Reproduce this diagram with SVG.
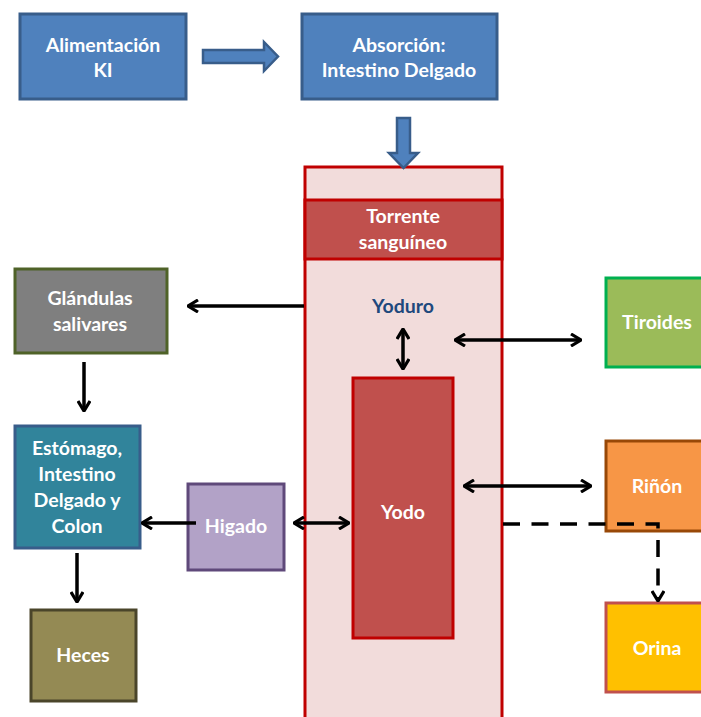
<svg xmlns="http://www.w3.org/2000/svg" width="701" height="717" viewBox="0 0 701 717">
<defs>
<style>
.t{font-family:Lato,"Open Sans","Liberation Sans",sans-serif;font-weight:bold;font-size:19.5px;fill:#fff;text-anchor:middle}
.c{stroke:#000;stroke-width:3.5;fill:none}
.blk{fill:#4F81BD;stroke:#385D8A;stroke-width:2.5}
</style>
<marker id="ah" viewBox="0 0 12 14" refX="11" refY="7" markerWidth="12" markerHeight="14" markerUnits="userSpaceOnUse" orient="auto-start-reverse">
<path d="M1,1 L11,7 L1,13" fill="none" stroke="#000" stroke-width="3.2"/>
</marker>
</defs>
<rect width="701" height="717" fill="#fff"/>
<g id="alimentacion">
<rect x="20" y="14" width="166" height="85" fill="#4F81BD" stroke="#385D8A" stroke-width="3"/>
<text class="t" x="103" y="52">Alimentación</text>
<text class="t" x="103" y="77">KI</text>
</g>
<g id="absorcion">
<rect x="302" y="14" width="195" height="85" fill="#4F81BD" stroke="#385D8A" stroke-width="3"/>
<text class="t" x="399" y="52">Absorción:</text>
<text class="t" x="399" y="77">Intestino Delgado</text>
</g>
<g id="torrente">
<rect x="305" y="167" width="197" height="560" fill="#F2DCDB" stroke="#C00000" stroke-width="3"/>
<rect x="305" y="200" width="197" height="59" fill="#C0504D" stroke="#C00000" stroke-width="3"/>
<text class="t" x="403" y="223">Torrente</text>
<text class="t" x="403" y="249">sanguíneo</text>
</g>
<g id="yoduro">
<text class="t" x="403" y="313" style="fill:#1F497D">Yoduro</text>
</g>
<g id="yodo">
<rect x="353" y="378" width="100" height="260" fill="#C0504D" stroke="#C00000" stroke-width="3"/>
<text class="t" x="403" y="519">Yodo</text>
</g>
<g id="tiroides">
<rect x="606" y="278" width="110" height="89" fill="#9BBB59" stroke="#00B050" stroke-width="3"/>
<text class="t" x="657" y="329">Tiroides</text>
</g>
<g id="rinon">
<rect x="606" y="441" width="110" height="90" fill="#F79646" stroke="#984807" stroke-width="3"/>
<text class="t" x="657" y="493">Riñón</text>
</g>
<g id="orina">
<rect x="606" y="603" width="110" height="89" fill="#FFC000" stroke="#C0504D" stroke-width="3"/>
<text class="t" x="657" y="655">Orina</text>
</g>
<g id="glandulas">
<rect x="15" y="269" width="152" height="84" fill="#7F7F7F" stroke="#4F6228" stroke-width="3"/>
<text class="t" x="90" y="305">Glándulas</text>
<text class="t" x="90" y="331">salivares</text>
</g>
<g id="estomago">
<rect x="15" y="426" width="125" height="122" fill="#31849B" stroke="#385D8A" stroke-width="3"/>
<text class="t" x="77" y="455">Estómago,</text>
<text class="t" x="77" y="481">Intestino</text>
<text class="t" x="77" y="507">Delgado y</text>
<text class="t" x="77" y="533">Colon</text>
</g>
<g id="higado">
<rect x="188" y="484" width="96" height="86" fill="#B2A2C7" stroke="#5F497A" stroke-width="3"/>
<text class="t" x="236" y="533">Higado</text>
</g>
<g id="heces">
<rect x="31" y="610" width="105" height="91" fill="#948A54" stroke="#4A452A" stroke-width="3"/>
<text class="t" x="83" y="662">Heces</text>
</g>
<g id="connectors">
<path class="blk" d="M203,50 H264 V42 L278,56.5 L264,71 V63 H203 Z"/>
<path class="blk" d="M397,118 H410 V153 H418 L403.5,168 L389,153 H397 Z"/>
<line class="c" x1="304" y1="306" x2="188" y2="306" marker-end="url(#ah)"/>
<line class="c" x1="403" y1="329" x2="403" y2="369" marker-start="url(#ah)" marker-end="url(#ah)"/>
<line class="c" x1="455" y1="340" x2="581" y2="340" marker-start="url(#ah)" marker-end="url(#ah)"/>
<line class="c" x1="84" y1="362" x2="84" y2="411" marker-end="url(#ah)"/>
<line class="c" x1="196" y1="523" x2="142" y2="523" marker-end="url(#ah)"/>
<line class="c" x1="294" y1="523" x2="349" y2="523" marker-start="url(#ah)" marker-end="url(#ah)"/>
<line class="c" x1="464" y1="486" x2="591" y2="486" marker-start="url(#ah)" marker-end="url(#ah)"/>
<line class="c" x1="77" y1="553" x2="77" y2="602" marker-end="url(#ah)"/>
<path class="c" d="M503,524 H658 V601" stroke-dasharray="17 11.5" marker-end="url(#ah)"/>
</g>
</svg>
